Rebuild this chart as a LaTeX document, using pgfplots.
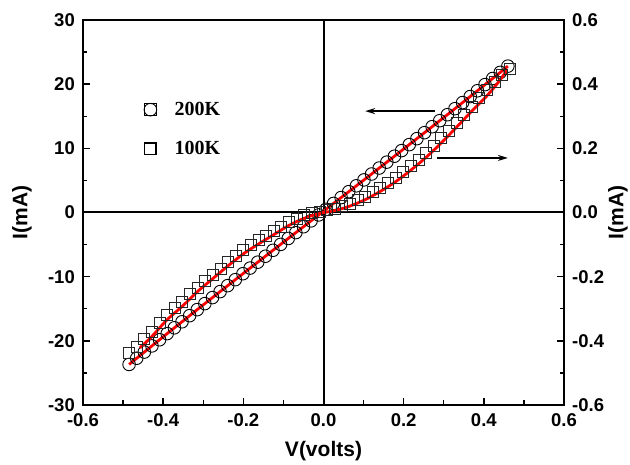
\documentclass[border=0pt]{standalone}
\usepackage{fontspec}
\setmainfont{Liberation Sans}
\newfontfamily\tnr{Liberation Serif}
\usepackage{pgfplots}
\usepackage{pgfplotstable}
\pgfplotsset{compat=1.18}
\usetikzlibrary{arrows.meta}

% 200K (left axis, mA)
\pgfplotstableread{
V I
-0.485 -23.68
-0.466 -22.71
-0.447 -21.75
-0.428 -20.79
-0.409 -19.83
-0.390 -18.87
-0.372 -17.97
-0.353 -17.03
-0.334 -16.08
-0.315 -15.14
-0.296 -14.20
-0.277 -13.26
-0.258 -12.33
-0.239 -11.40
-0.220 -10.47
-0.201 -9.54
-0.183 -8.66
-0.164 -7.74
-0.145 -6.82
-0.126 -5.89
-0.107 -4.97
-0.088 -4.05
-0.069 -3.13
-0.050 -2.22
-0.031 -1.30
-0.012 -0.38
0.006 0.49
0.025 1.41
0.044 2.33
0.063 3.24
0.082 4.16
0.101 5.08
0.120 6.00
0.139 6.93
0.158 7.85
0.177 8.77
0.195 9.65
0.214 10.58
0.233 11.51
0.252 12.44
0.271 13.37
0.290 14.31
0.309 15.24
0.328 16.18
0.347 17.13
0.366 18.07
0.384 18.97
0.403 19.93
0.422 20.88
0.441 21.84
0.460 22.81
}\datahigh

% 100K (right axis)
\pgfplotstableread{
V I
-0.485 -0.438
-0.466 -0.418
-0.447 -0.395
-0.428 -0.371
-0.409 -0.345
-0.390 -0.320
-0.371 -0.298
-0.352 -0.279
-0.333 -0.254
-0.314 -0.234
-0.295 -0.214
-0.276 -0.195
-0.257 -0.175
-0.238 -0.155
-0.219 -0.135
-0.200 -0.118
-0.181 -0.102
-0.162 -0.087
-0.143 -0.072
-0.124 -0.059
-0.105 -0.046
-0.086 -0.030
-0.067 -0.019
-0.048 -0.009
-0.029 -0.002
-0.010 0.003
0.009 0.007
0.028 0.012
0.047 0.019
0.066 0.028
0.085 0.039
0.104 0.050
0.123 0.063
0.142 0.077
0.161 0.092
0.180 0.108
0.199 0.126
0.218 0.145
0.237 0.165
0.256 0.186
0.275 0.208
0.294 0.231
0.313 0.255
0.332 0.280
0.351 0.305
0.370 0.330
0.389 0.356
0.408 0.382
0.427 0.408
0.446 0.430
0.465 0.446
}\datalow

% 100K fit curve (right axis)
\pgfplotstableread{
V I
-0.458 -0.422
-0.428 -0.386
-0.390 -0.334
-0.352 -0.292
-0.314 -0.246
-0.276 -0.206
-0.238 -0.166
-0.200 -0.129
-0.162 -0.098
-0.124 -0.069
-0.086 -0.040
-0.048 -0.018
-0.010 -0.003
0.028 0.006
0.066 0.020
0.104 0.040
0.142 0.066
0.180 0.096
0.218 0.132
0.256 0.172
0.294 0.217
0.332 0.266
0.370 0.316
0.408 0.364
0.440 0.412
0.457 0.444
}\fitlow

\pgfplotsset{
  common/.style={
    scale only axis, width=481pt, height=385pt,
    at={(0pt,0pt)}, anchor=south west,
    xmin=-0.6, xmax=0.6,
    tick align=inside,
    major tick length=7pt, minor tick length=4.5pt,
    every tick/.style={black, line width=1.4pt},
    axis line style={line width=2pt},
    /pgf/number format/assume math mode=true,
    ticklabel style={font=\fontsize{18.5}{20}\selectfont\bfseries},
    label style={font=\fontsize{21}{24}\selectfont\bfseries},
    clip=false,
  }
}

\begin{document}
\begin{tikzpicture}
\begin{axis}[common,
  ymin=-30, ymax=30,
  xtick pos=lower, ytick pos=left,
  xtick={-0.6,-0.4,-0.2,0,0.2,0.4,0.6},
  ytick={-30,-20,-10,0,10,20,30},
  minor x tick num=1, minor y tick num=1,
  xticklabel style={inner sep=0pt, anchor=north, yshift=-8pt,
    /pgf/number format/.cd, fixed, fixed zerofill, precision=1},
  yticklabel style={inner sep=0pt, anchor=east, xshift=-8pt},
  xlabel={V(volts)},
  ylabel={I(mA)},
  xlabel style={at={(axis description cs:0.5,-0.1195)}, anchor=center},
  ylabel style={at={(axis description cs:-0.127,0.5)}, anchor=center},
  legend image code/.code={\path (0pt,-6pt) rectangle (12pt,6pt);
    \draw[#1] plot coordinates {(6pt,0pt)};},
  legend style={draw=none, fill=none, inner sep=0pt,
    at={(axis cs:-0.448,13.0)}, anchor=west,
    font=\tnr\fontsize{20}{22}\selectfont\bfseries,
    row sep=24pt,
    nodes={inner sep=0pt},
    /tikz/every odd column/.append style={column sep=18pt}},
  legend cell align=left,
]
\draw[line width=2pt] (axis cs:0,-30) -- (axis cs:0,30);
\draw[line width=2pt] (axis cs:-0.6,0) -- (axis cs:0.6,0);
\addlegendimage{only marks, mark=o, mark size=6.3pt,
  mark options={line width=0.9pt, draw=black, fill=none}}
\addlegendentry{200K}
\addlegendimage{only marks, mark=square, mark size=5.5pt,
  mark options={line width=0.9pt, draw=black, fill=none}}
\addlegendentry{100K}
\addplot[only marks, mark=o, mark size=6.3pt, forget plot,
  mark options={line width=0.9pt, draw=black}] table {\datahigh};
\addplot[red, line width=2.8pt, forget plot] table {\datahigh};
\draw[line width=1.6pt, -{Stealth[length=10pt,width=6pt]}]
  (axis cs:0.278,15.8) -- (axis cs:0.104,15.8);
\draw[line width=1.6pt, -{Stealth[length=10pt,width=6pt]}]
  (axis cs:0.283,8.5) -- (axis cs:0.46,8.5);
\end{axis}
\begin{axis}[common,
  ymin=-0.6, ymax=0.6,
  axis y line*=right, axis x line=none,
  ytick={-0.6,-0.4,-0.2,0,0.2,0.4,0.6},
  minor y tick num=1,
  yticklabel style={inner sep=0pt, anchor=west, xshift=8pt,
    /pgf/number format/.cd, fixed, fixed zerofill, precision=1},
  ylabel={I(mA)},
  ylabel style={at={(axis description cs:1.112,0.5)}, anchor=center, rotate=0},
]
\addplot[only marks, mark=square, mark size=5.5pt,
  mark options={line width=0.9pt, draw=black!85}] table {\datalow};
\addplot[red, line width=2.8pt, smooth] table {\fitlow};
\end{axis}
\pgfresetboundingbox
\useasboundingbox (-83pt,-60pt) rectangle (547pt,405pt);
\end{tikzpicture}
\end{document}
